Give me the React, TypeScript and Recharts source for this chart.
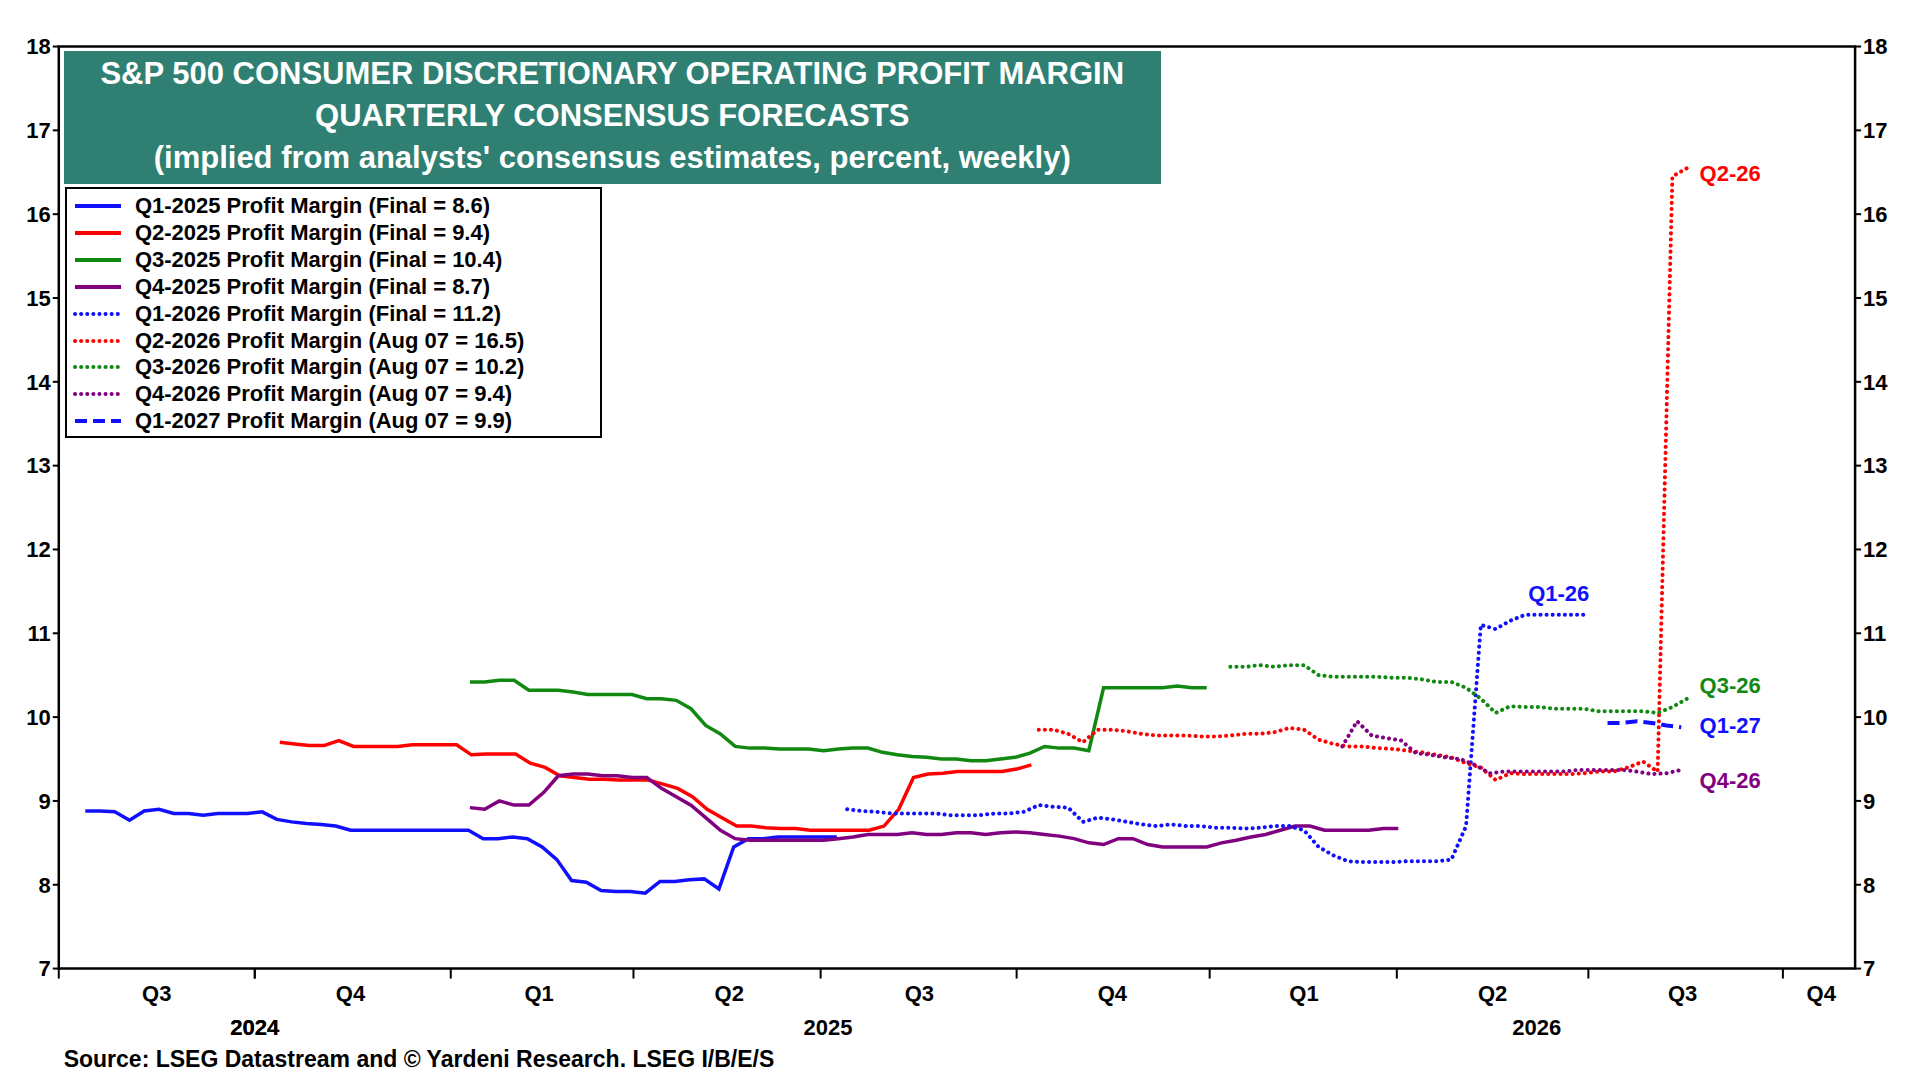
import { LineChart, Line, XAxis, YAxis, ReferenceArea } from 'recharts';

const S = 1920 / 1568;

// weekly values, start = week offset from start of Q3-2024
const q1_25 = [8.88, 8.88, 8.87, 8.77, 8.88, 8.9, 8.85, 8.85, 8.83, 8.85, 8.85, 8.85, 8.87, 8.78, 8.75, 8.73, 8.72, 8.7, 8.65, 8.65, 8.65, 8.65, 8.65, 8.65, 8.65, 8.65, 8.65, 8.55, 8.55, 8.57, 8.55, 8.45, 8.3, 8.05, 8.03, 7.93, 7.92, 7.92, 7.9, 8.04, 8.04, 8.06, 8.07, 7.95, 8.45, 8.55, 8.55, 8.57, 8.57, 8.57, 8.57, 8.57];
const q2_25 = [9.7, 9.68, 9.66, 9.66, 9.72, 9.65, 9.65, 9.65, 9.65, 9.67, 9.67, 9.67, 9.67, 9.55, 9.56, 9.56, 9.56, 9.45, 9.4, 9.3, 9.28, 9.26, 9.26, 9.25, 9.25, 9.25, 9.2, 9.15, 9.05, 8.9, 8.8, 8.7, 8.7, 8.68, 8.67, 8.67, 8.65, 8.65, 8.65, 8.65, 8.65, 8.7, 8.9, 9.28, 9.32, 9.33, 9.35, 9.35, 9.35, 9.35, 9.38, 9.43];
const q3_25 = [10.42, 10.42, 10.44, 10.44, 10.32, 10.32, 10.32, 10.3, 10.27, 10.27, 10.27, 10.27, 10.22, 10.22, 10.2, 10.1, 9.9, 9.8, 9.65, 9.63, 9.63, 9.62, 9.62, 9.62, 9.6, 9.62, 9.63, 9.63, 9.58, 9.55, 9.53, 9.52, 9.5, 9.5, 9.48, 9.48, 9.5, 9.52, 9.57, 9.65, 9.63, 9.63, 9.6, 10.35, 10.35, 10.35, 10.35, 10.35, 10.37, 10.35, 10.35];
const q4_25 = [8.92, 8.9, 9.0, 8.95, 8.95, 9.1, 9.3, 9.32, 9.32, 9.3, 9.3, 9.28, 9.28, 9.15, 9.05, 8.95, 8.8, 8.65, 8.55, 8.53, 8.53, 8.53, 8.53, 8.53, 8.53, 8.55, 8.57, 8.6, 8.6, 8.6, 8.62, 8.6, 8.6, 8.62, 8.62, 8.6, 8.62, 8.63, 8.62, 8.6, 8.58, 8.55, 8.5, 8.48, 8.55, 8.55, 8.48, 8.45, 8.45, 8.45, 8.45, 8.5, 8.53, 8.57, 8.6, 8.65, 8.7, 8.7, 8.65, 8.65, 8.65, 8.65, 8.67, 8.67];
const q1_26 = [8.9, 8.88, 8.87, 8.85, 8.85, 8.85, 8.85, 8.83, 8.83, 8.83, 8.85, 8.85, 8.87, 8.95, 8.93, 8.92, 8.75, 8.8, 8.78, 8.75, 8.72, 8.7, 8.72, 8.7, 8.7, 8.68, 8.68, 8.67, 8.68, 8.7, 8.7, 8.65, 8.45, 8.35, 8.28, 8.27, 8.27, 8.27, 8.28, 8.28, 8.28, 8.3, 8.7, 11.1, 11.05, 11.15, 11.22, 11.22, 11.22, 11.22, 11.22];
const q2_26 = [9.85, 9.85, 9.8, 9.7, 9.85, 9.85, 9.83, 9.8, 9.78, 9.78, 9.78, 9.77, 9.77, 9.78, 9.8, 9.8, 9.82, 9.87, 9.85, 9.73, 9.68, 9.65, 9.65, 9.63, 9.62, 9.6, 9.58, 9.55, 9.52, 9.45, 9.4, 9.25, 9.33, 9.32, 9.32, 9.32, 9.32, 9.33, 9.35, 9.35, 9.4, 9.47, 9.35, 16.45, 16.55];
const q3_26 = [10.6, 10.6, 10.62, 10.6, 10.62, 10.62, 10.5, 10.48, 10.48, 10.48, 10.48, 10.47, 10.47, 10.45, 10.42, 10.42, 10.35, 10.22, 10.05, 10.13, 10.12, 10.12, 10.1, 10.1, 10.1, 10.07, 10.07, 10.07, 10.07, 10.05, 10.12, 10.22];
const q4_26 = [9.65, 9.95, 9.78, 9.75, 9.72, 9.57, 9.55, 9.52, 9.5, 9.43, 9.33, 9.35, 9.35, 9.35, 9.35, 9.35, 9.37, 9.37, 9.37, 9.37, 9.35, 9.32, 9.33, 9.37];
const q1_27 = [9.93, 9.93, 9.95, 9.93, 9.9, 9.88];

const quarterBounds = [0, 13.3, 26.6, 39, 51.7, 65, 78.1, 90.8, 103.8, 117];
const quarterMids = [6.65, 19.8, 32.6, 45.5, 58.4, 71.5, 84.5, 97.3, 110.2, 119.6];
const quarterLabels = ['Q3', 'Q4', 'Q1', 'Q2', 'Q3', 'Q4', 'Q1', 'Q2', 'Q3', 'Q4'];
const yearPos = [13.3, 52.2, 100.3];
const yearLabels = ['2024', '2025', '2026'];
const yTicks = [7, 8, 9, 10, 11, 12, 13, 14, 15, 16, 17, 18];

const toPts = (vals: number[], start: number) => vals.map((v, i) => ({ x: start + i, y: v }));

const series = [
  { name: 'Q1-2025 Profit Margin (Final = 8.6)', data: toPts(q1_25, 1.8), color: '#1010ff', dash: undefined },
  { name: 'Q2-2025 Profit Margin (Final = 9.4)', data: toPts(q2_25, 15.0), color: '#ff0000', dash: undefined },
  { name: 'Q3-2025 Profit Margin (Final = 10.4)', data: toPts(q3_25, 27.9), color: '#118811', dash: undefined },
  { name: 'Q4-2025 Profit Margin (Final = 8.7)', data: toPts(q4_25, 27.9), color: '#800080', dash: undefined },
  { name: 'Q1-2026 Profit Margin (Final = 11.2)', data: toPts(q1_26, 53.5), color: '#1010ff', dash: '0.1 6' },
  { name: 'Q2-2026 Profit Margin (Aug 07 = 16.5)', data: toPts(q2_26, 66.5), color: '#ff0000', dash: '0.1 6' },
  { name: 'Q3-2026 Profit Margin (Aug 07 = 10.2)', data: toPts(q3_26, 79.5), color: '#118811', dash: '0.1 6' },
  { name: 'Q4-2026 Profit Margin (Aug 07 = 9.4)', data: toPts(q4_26, 87.1), color: '#800080', dash: '0.1 6' },
  { name: 'Q1-2027 Profit Margin (Aug 07 = 9.9)', data: toPts(q1_27, 105.1), color: '#1010ff', dash: '12 6' },
];

const endLabels = [
  { text: 'Q2-26', x: 1388, y: 142, color: '#ff0000' },
  { text: 'Q1-26', x: 1248, y: 485, color: '#1010ff' },
  { text: 'Q3-26', x: 1388, y: 560, color: '#118811' },
  { text: 'Q1-27', x: 1388, y: 593, color: '#1010ff' },
  { text: 'Q4-26', x: 1388, y: 638, color: '#800080' },
];

const allTicks = [...quarterBounds, ...quarterMids, ...yearPos];
const font = '"Liberation Sans", Arial, sans-serif';

function XTick(props: any) {
  const { x, y, payload } = props;
  const v = payload.value;
  const bi = quarterBounds.indexOf(v);
  const mi = quarterMids.indexOf(v);
  const yi = yearPos.indexOf(v);
  if (bi >= 0 && yi < 0) return <line x1={x} x2={x} y1={y - 8} y2={y + 2} stroke="#000" strokeWidth={2} />;
  if (mi >= 0)
    return <text x={x} y={y + 24} textAnchor="middle" fontSize={22} fontWeight="bold" fontFamily={font}>{quarterLabels[mi]}</text>;
  if (yi >= 0)
    return (
      <g>
        {bi >= 0 && <line x1={x} x2={x} y1={y - 8} y2={y + 2} stroke="#000" strokeWidth={2} />}
        <text x={x} y={y + 58} textAnchor="middle" fontSize={22} fontWeight="bold" fontFamily={font}>{yearLabels[yi]}</text>
      </g>
    );
  return null;
}

export default function App() {
  const W = 1920;
  const H = 1078;
  const left = 48 * S;
  const right = 1515 * S;
  const top = 38 * S;
  const bottom = 791 * S;
  const yTick = { fontSize: 22, fontWeight: 'bold', fill: '#000', fontFamily: font };
  return (
    <div style={{ position: 'absolute', left: 0, top: 0, width: W, height: H, background: '#fff', fontFamily: font }}>
      <LineChart width={W} height={H} margin={{ top, bottom: H - bottom - 30, left: left - 50, right: W - right - 50 }}>
        <XAxis type="number" dataKey="x" height={30} domain={[0, 121.9]} ticks={allTicks} tick={<XTick />} tickLine={false} axisLine={false} interval={0} allowDuplicatedCategory={false} />
        <YAxis yAxisId="l" domain={[7, 18]} ticks={yTicks} width={50} axisLine={false} tickLine={{ stroke: '#000', strokeWidth: 2 }} tickSize={6} tick={yTick} />
        <YAxis yAxisId="r" orientation="right" domain={[7, 18]} ticks={yTicks} width={50} axisLine={false} tickLine={{ stroke: '#000', strokeWidth: 2 }} tickSize={6} tick={yTick} />
        <ReferenceArea yAxisId="l" x1={0} x2={121.9} y1={7} y2={18} fill="none" stroke="#000" strokeWidth={2.5} ifOverflow="visible" />
        <Line yAxisId="r" data={series[0].data} dataKey="y" stroke="none" dot={false} isAnimationActive={false} legendType="none" />
        {series.map((s) => (
          <Line key={s.name} yAxisId="l" data={s.data} dataKey="y" type="linear" stroke={s.color} strokeWidth={s.dash ? 4 : 3.5} strokeDasharray={s.dash} strokeLinecap={s.dash && s.dash.startsWith('0.1') ? 'round' : 'butt'} dot={false} isAnimationActive={false} />
        ))}
      </LineChart>

      <div style={{ position: 'absolute', left: 52 * S, top: 42 * S, width: 896 * S, height: 108 * S, background: '#2f7f72', color: '#fff', fontWeight: 'bold', textAlign: 'center', fontSize: 31, lineHeight: `${42}px`, paddingTop: 2, boxSizing: 'border-box' }}>
        <div>S&amp;P 500 CONSUMER DISCRETIONARY OPERATING PROFIT MARGIN</div>
        <div>QUARTERLY CONSENSUS FORECASTS</div>
        <div>(implied from analysts' consensus estimates, percent, weekly)</div>
      </div>

      <div style={{ position: 'absolute', left: 53 * S, top: 153 * S, width: 439 * S, height: 205 * S, background: '#fff', border: '2px solid #000', boxSizing: 'border-box', padding: '3px 6px' }}>
        {series.map((s) => (
          <div key={s.name} style={{ display: 'flex', alignItems: 'center', height: 22 * S, fontSize: 22, fontWeight: 'bold', whiteSpace: 'nowrap' }}>
            <svg width={50} height={10} style={{ marginRight: 12 }}>
              <line x1={2} x2={48} y1={5} y2={5} stroke={s.color} strokeWidth={4} strokeDasharray={s.dash} strokeLinecap={s.dash && s.dash.startsWith('0.1') ? 'round' : 'butt'} />
            </svg>
            {s.name}
          </div>
        ))}
      </div>

      {endLabels.map((l) => (
        <div key={l.text} style={{ position: 'absolute', left: l.x * S, top: l.y * S - 13, color: l.color, fontSize: 22, fontWeight: 'bold' }}>{l.text}</div>
      ))}

      <div style={{ position: 'absolute', left: 52 * S, top: 854 * S, fontSize: 23, fontWeight: 'bold' }}>
        Source: LSEG Datastream and © Yardeni Research. LSEG I/B/E/S
      </div>
    </div>
  );
}
